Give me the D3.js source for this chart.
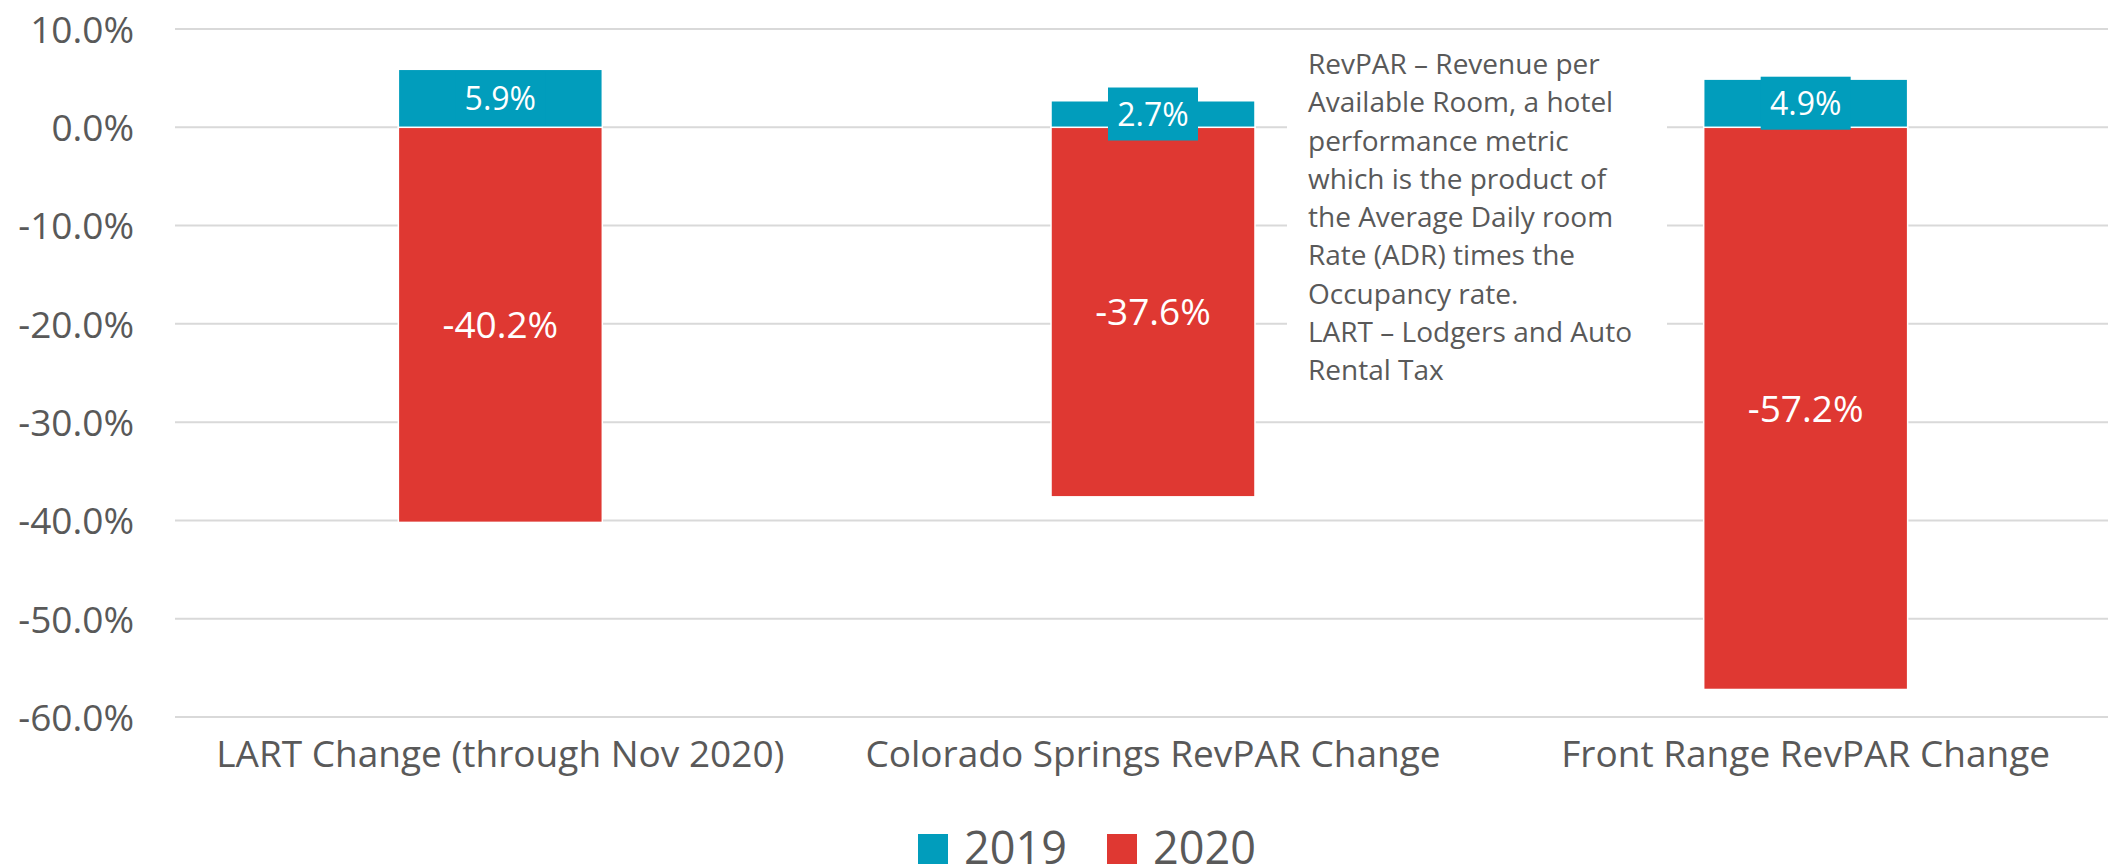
<!DOCTYPE html>
<html>
<head>
<meta charset="utf-8">
<script src="https://cdn.jsdelivr.net/npm/d3@7"></script>
<style>
    body { margin: 0; background: #fff; }
    text { font-family: "Open Sans", sans-serif; fill: #595959; }
</style>
</head>
<body>
<div id="chart"></div>
<script>
const categories = ["LART Change (through Nov 2020)", "Colorado Springs RevPAR Change", "Front Range RevPAR Change"];
const seriesNames = ["2019", "2020"];
const values2019 = [5.9, 2.7, 4.9];
const values2020 = [-40.2, -37.6, -57.2];
const yTicks = [10, 0, -10, -20, -30, -40, -50, -60];
const noteLines = [
    "RevPAR \u2013 Revenue per",
    "Available Room, a hotel",
    "performance metric",
    "which is the product of",
    "the Average Daily room",
    "Rate (ADR) times the",
    "Occupancy rate.",
    "LART \u2013 Lodgers and Auto",
    "Rental Tax"
];

const colors = { "2019": "#019dbc", "2020": "#df3832" };
const width = 2108;
const height = 866;

const svg = d3.select("#chart")
    .append("svg")
    .attr("width", width)
    .attr("height", height);

// Scales
const x = d3.scaleBand()
    .domain(categories)
    .range([174, 2132])
    .paddingInner(0.6875)
    .paddingOuter(0.34375);

const y = d3.scaleLinear()
    .domain([-60, 10])
    .range([717, 29]);

// Gridlines
svg.append("g")
    .selectAll("line")
    .data(yTicks)
    .enter()
    .append("line")
    .attr("x1", 175)
    .attr("x2", width)
    .attr("y1", d => y(d))
    .attr("y2", d => y(d))
    .attr("stroke", "#d9d9d9")
    .attr("stroke-width", 2);

// Y axis labels
const yAxis = svg.append("g")
    .attr("transform", "translate(134,0)")
    .call(d3.axisLeft(y).tickValues(yTicks).tickSize(0).tickPadding(0)
        .tickFormat(d => d.toFixed(1) + "%"));
yAxis.select(".domain").remove();
yAxis.selectAll("text")
    .style("font-family", "'Open Sans', sans-serif")
    .style("font-size", "37px")
    .attr("fill", "#595959")
    .attr("dy", "0.36em");

// Bars: 2019 stacks up from zero, 2020 hangs down from zero
const rows = categories.map((c, i) => ({ cat: c, v2019: values2019[i], v2020: values2020[i] }));
const barW = x.bandwidth();

svg.append("g")
    .selectAll("rect")
    .data(rows)
    .enter()
    .append("rect")
    .attr("x", d => x(d.cat))
    .attr("y", y(0))
    .attr("width", barW)
    .attr("height", d => y(d.v2020) - y(0))
    .attr("fill", colors["2020"])
    .attr("stroke", "#fff")
    .attr("stroke-width", 1.5);

svg.append("g")
    .selectAll("rect")
    .data(rows)
    .enter()
    .append("rect")
    .attr("x", d => x(d.cat))
    .attr("y", d => y(d.v2019))
    .attr("width", barW)
    .attr("height", d => y(0) - y(d.v2019))
    .attr("fill", colors["2019"])
    .attr("stroke", "#fff")
    .attr("stroke-width", 1.5);

// Note box (white background hides the gridlines behind it)
svg.append("rect")
    .attr("x", 1287)
    .attr("y", 45)
    .attr("width", 380)
    .attr("height", 355)
    .attr("fill", "#fff");

svg.append("g")
    .selectAll("text")
    .data(noteLines)
    .enter()
    .append("text")
    .attr("x", 1308)
    .attr("y", (d, i) => 74 + i * 38.25)
    .style("font-size", "28px")
    .text(d => d);

// 2019 labels with filled boxes
const lab2019 = svg.append("g")
    .selectAll("g")
    .data(rows)
    .enter()
    .append("g")
    .attr("transform", d => `translate(${x(d.cat) + barW / 2},${(y(d.v2019) + y(0)) / 2})`);

lab2019.append("rect")
    .attr("x", -45)
    .attr("y", -26.5)
    .attr("width", 90)
    .attr("height", 53)
    .attr("fill", colors["2019"]);

lab2019.append("text")
    .attr("text-anchor", "middle")
    .attr("dy", "0.36em")
    .style("font-size", "32px")
    .style("fill", "#fff")
    .text(d => d.v2019.toFixed(1) + "%");

// 2020 labels
svg.append("g")
    .selectAll("text")
    .data(rows)
    .enter()
    .append("text")
    .attr("x", d => x(d.cat) + barW / 2)
    .attr("y", d => (y(d.v2020) + y(0)) / 2)
    .attr("text-anchor", "middle")
    .attr("dy", "0.36em")
    .style("font-size", "37px")
    .style("fill", "#fff")
    .text(d => d.v2020.toFixed(1) + "%");

// Category labels
svg.append("g")
    .selectAll("text")
    .data(categories)
    .enter()
    .append("text")
    .attr("x", d => x(d) + barW / 2)
    .attr("y", 767)
    .attr("text-anchor", "middle")
    .style("font-size", "37px")
    .text(d => d);

// Legend
const legendX = [918, 1107];
const legend = svg.append("g")
    .selectAll("g")
    .data(seriesNames)
    .enter()
    .append("g")
    .attr("transform", (d, i) => `translate(${legendX[i]},834)`);

legend.append("rect")
    .attr("width", 30)
    .attr("height", 30)
    .attr("fill", d => colors[d]);

legend.append("text")
    .attr("x", 46)
    .attr("y", 30)
    .style("font-size", "45px")
    .text(d => d);
</script>
</body>
</html>
